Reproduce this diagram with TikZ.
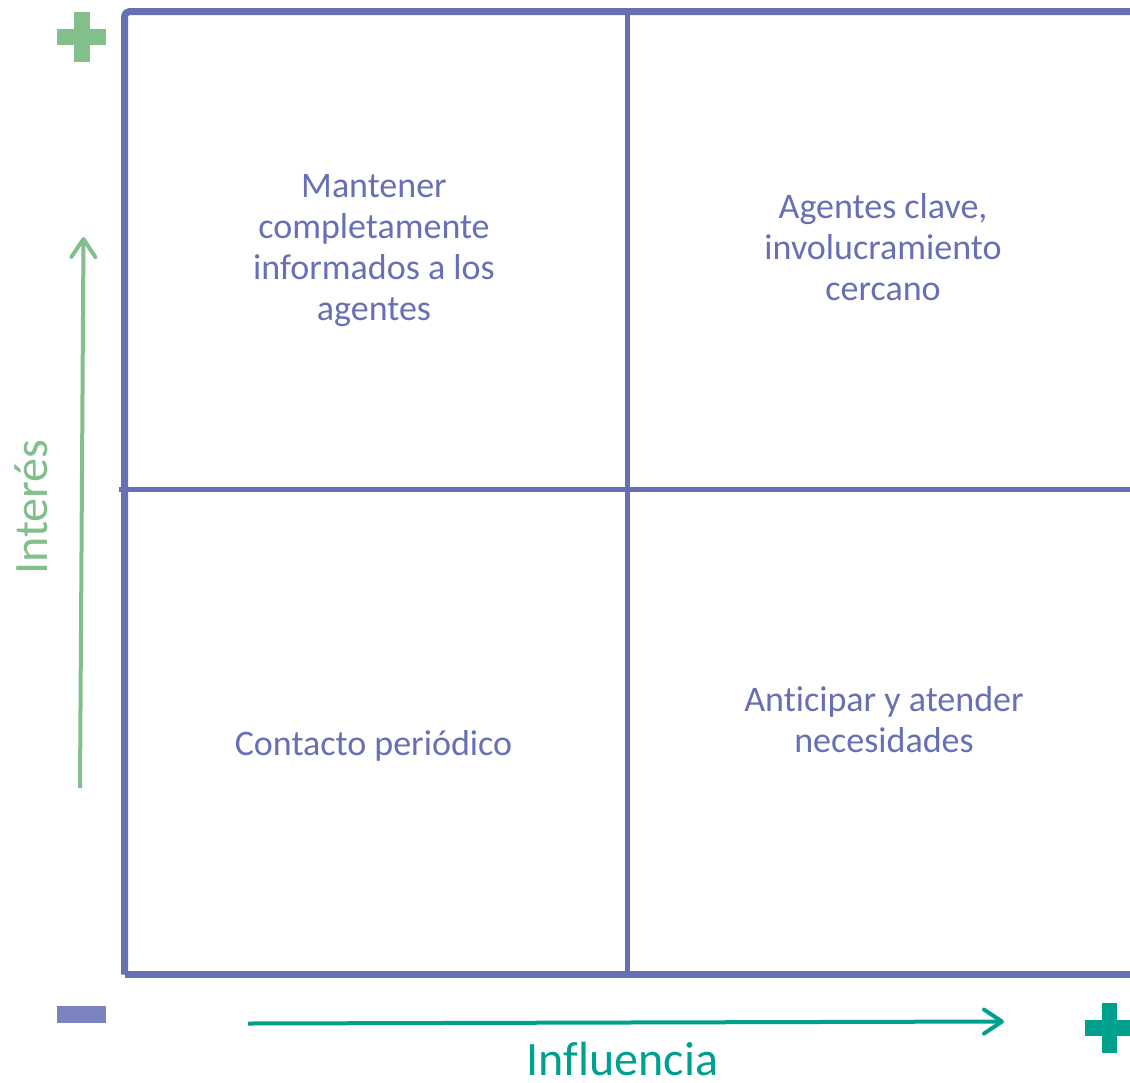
\documentclass[tikz,border=0pt]{standalone}
\usepackage{fontspec}
\setmainfont{Carlito}[Ligatures={NoCommon}, RawFeature={-calt;-clig;-liga}]
\usetikzlibrary{arrows.meta}
\definecolor{framec}{HTML}{6870B4}
\definecolor{textc}{HTML}{6770B5}
\definecolor{minusc}{HTML}{7B84BE}
\definecolor{greenc}{HTML}{82BF8A}
\definecolor{tealc}{HTML}{00A08E}
\tikzset{
  gridline/.style={draw=framec, line width=5pt},
  frameline/.style={draw=framec, line width=7pt, line join=round},
  quadtext/.style={text=textc, font=\fontsize{36}{41}\selectfont, align=center, inner sep=0pt, anchor=base},
  axislabel/.style={font=\fontsize{48}{56}\selectfont, inner sep=0pt, anchor=base, text depth=0pt},
  axisarrow/.style={line width=4pt, -{Straight Barb[length=18pt,width=24pt,line cap=round,line join=round]}},
}
\begin{document}
\begin{tikzpicture}[x=1pt,y=-1pt]
\path[use as bounding box, fill=white] (0,0) rectangle (1130,1082);

% grid
\coordinate (tl) at (124.5,11.5);
\coordinate (bl) at (124.5,974.5);
\coordinate (tr) at (1145,11.5);
\coordinate (br) at (1145,974.5);
\coordinate (mt) at (627,11.5);
\coordinate (mb) at (627,974.5);
\coordinate (ml) at (119,489.5);
\coordinate (mr) at (1145,489.5);
\draw[gridline] (mt) -- (mb);
\draw[gridline] (ml) -- (mr);
\draw[frameline, rounded corners=5pt] (bl) -- (tl) -- (tr);
\draw[frameline] (bl) -- (br);

% quadrant texts
\node[quadtext] (q1) at (374,320) {Mantener\\completamente\\informados a los\\agentes};
\node[quadtext] (q2) at (883,300) {Agentes clave,\\involucramiento\\cercano};
\node[quadtext] (q3) at (373.5,755) {Contacto periódico};
\node[quadtext] (q4) at (884,752) {Anticipar y atender\\necesidades};

% axes
\coordinate (ya) at (80,788);
\coordinate (yb) at (83.5,237);
\draw[axisarrow, draw=greenc] (ya) -- (yb);
\coordinate (xa) at (248,1023.5);
\coordinate (xb) at (1004,1021.5);
\draw[axisarrow, draw=tealc] (xa) -- (xb);

\node[axislabel, text=greenc, rotate=90] (ylab) at (47,507) {Interés};
\node[axislabel, text=tealc] (xlab) at (622.5,1075) {Influencia};

% plus / minus signs
\fill[greenc] (57,28.5) rectangle (106,44.5);
\fill[greenc] (73.5,12) rectangle (89.5,62);
\node[inner sep=0pt] (plusy) at (81.5,37) {};
\fill[tealc] (1085,1020) rectangle (1133,1036);
\fill[tealc] (1102,1003) rectangle (1117,1053);
\node[inner sep=0pt] (plusx) at (1109,1028) {};
\fill[minusc] (57,1006) rectangle (106,1023);
\node[inner sep=0pt] (minus) at (81.5,1014.5) {};
\end{tikzpicture}
\end{document}
